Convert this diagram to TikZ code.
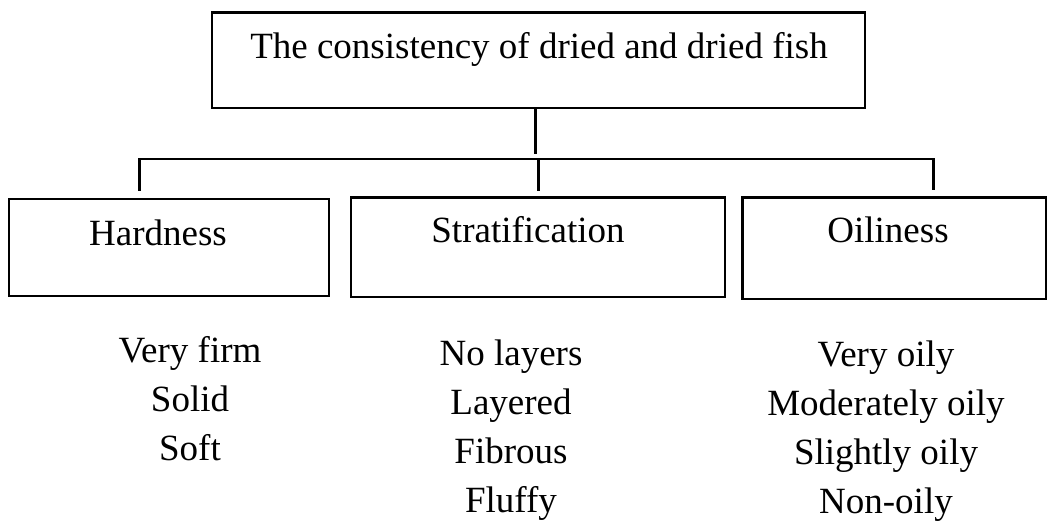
\documentclass[tikz,border=0pt]{standalone}
\usepackage{fontspec}
\setmainfont{Liberation Serif}
\begin{document}
\begin{tikzpicture}[x=1pt,y=-1pt,
  every node/.style={font=\fontsize{37}{49}\selectfont},
  frame/.style={draw, line width=2.5pt, rectangle, inner sep=0pt},
  caption/.style={anchor=base, inner sep=0pt},
  items/.style={anchor=base, align=center, inner sep=0pt},
  wire/.style={line width=2.5pt}]
\useasboundingbox (0,0) rectangle (1048,521);

% main heading box
\node[frame, minimum width=653pt, minimum height=95.5pt] (top) at (538.5,60.25) {};
\node[caption] (toptext) at (539,58.3) {The consistency of dried and dried fish};

% three property boxes
\node[frame, minimum width=320pt, minimum height=97pt] (hard) at (169,247.5) {};
\node[frame, minimum width=374pt, minimum height=99.5pt] (strat) at (538,247.25) {};
\node[frame, minimum width=303.5pt, minimum height=101.3pt] (oil) at (894.25,248.35) {};

\node[caption] (hardtext) at (158,245) {Hardness};
\node[caption] (strattext) at (528,242.7) {Stratification};
\node[caption] (oiltext) at (888,242.7) {Oiliness};

% grades under each box (anchored at the baseline of the last line)
\node[items] (hardlist) at (190,460) {Very firm\\Solid\\Soft};
\node[items] (stratlist) at (511,512) {No layers\\Layered\\Fibrous\\Fluffy};
\node[items] (oillist) at (886,513) {Very oily\\Moderately oily\\Slightly oily\\Non-oily};

% connecting tree
\coordinate (joint) at (535.7,159);
\coordinate (busL) at (139.3,159);
\coordinate (busM) at (538.3,159);
\coordinate (busR) at (933.3,159);
\draw[wire, shorten >=5pt] (top.south -| joint) -- (joint);
\draw[wire, shorten <=7pt, shorten >=6.5pt]
  (busL |- hard.north) -- (busL) -- (busR) -- (busR |- oil.north);
\draw[wire, shorten >=5pt] (busM) -- (busM |- strat.north);
\end{tikzpicture}
\end{document}
